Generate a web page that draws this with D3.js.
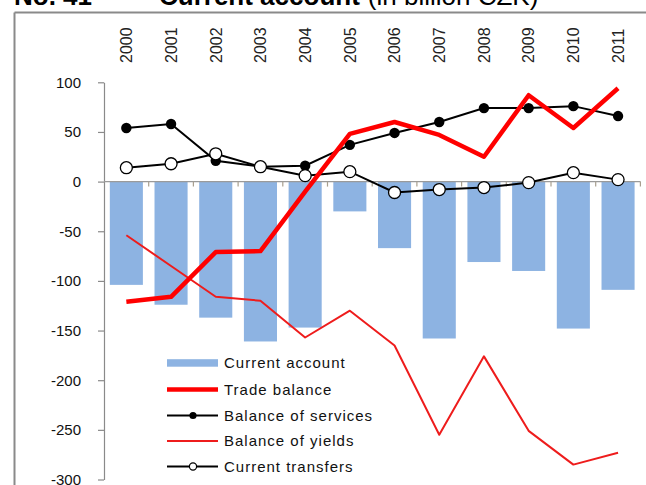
<!DOCTYPE html>
<html>
<head>
<meta charset="utf-8">
<script src="https://cdn.jsdelivr.net/npm/d3@7"></script>
<style>
  html, body { margin: 0; padding: 0; background: #fff; }
  svg { display: block; font-family: Arial, "Liberation Sans", sans-serif; }
</style>
</head>
<body>
<svg id="chart" width="646" height="485"></svg>
<script>
const years = ["2000","2001","2002","2003","2004","2005","2006","2007","2008","2009","2010","2011"];
const currentAccount = [-104, -124, -137, -161, -147, -30, -67, -158, -81, -90, -148, -109];
const tradeBalance = [-121, -116, -71, -70, -10, 48, 60, 47, 25, 87, 54, 94];
const balanceServices = [54, 58, 21, 15, 16, 37, 49, 60, 74, 74, 76, 66];
const balanceYields = [-54, -85, -116, -120, -157, -130, -165, -255, -176, -251, -285, -273];
const currentTransfers = [14, 18, 28, 15, 6, 10, -11, -8, -6, -1, 9, 2];
const yTicks = [-300, -250, -200, -150, -100, -50, 0, 50, 100];
const legendLabels = ["Current account", "Trade balance", "Balance of services", "Balance of yields", "Current transfers"];

const svg = d3.select("#chart");

// Frame
svg.append("line").attr("x1", 14.5).attr("x2", 646).attr("y1", 12.5).attr("y2", 12.5)
  .attr("stroke", "#8a8a8a").attr("stroke-width", 2);
svg.append("line").attr("x1", 14.5).attr("x2", 14.5).attr("y1", 12.5).attr("y2", 485)
  .attr("stroke", "#8a8a8a").attr("stroke-width", 2);

// Title (cut off at top, as in the reference)
const title = svg.append("text").attr("y", 5).attr("font-size", 26).attr("fill", "#000");
title.append("tspan").attr("x", 14).attr("font-weight", "bold").text("No. 41");
title.append("tspan").attr("x", 159).attr("font-weight", "bold").text("Current account");
title.append("tspan").attr("dx", 8).attr("font-weight", "normal").text("(in billion CZK)");

const x = d3.scaleBand().domain(years).range([104, 640.4]).paddingInner(0.26).paddingOuter(0.13);
const y = d3.scaleLinear().domain([-300, 100]).range([479.5, 82.3]);
const cx = d => x(d) + x.bandwidth() / 2;

// Bars
svg.append("g").selectAll("rect").data(years).join("rect")
  .attr("x", d => x(d))
  .attr("width", x.bandwidth())
  .attr("y", (d, i) => y(Math.max(0, currentAccount[i])))
  .attr("height", (d, i) => Math.abs(y(currentAccount[i]) - y(0)))
  .attr("fill", "#8db3e2");

// Y axis
const yAxis = svg.append("g").attr("transform", "translate(104,0)")
  .call(d3.axisLeft(y).tickValues(yTicks).tickFormat(d => String(d))
    .tickSize(6).tickSizeOuter(0).tickPadding(17));
yAxis.select(".domain").attr("stroke", "#8a8a8a").attr("stroke-width", 1.2);
yAxis.selectAll(".tick line").attr("stroke", "#8a8a8a").attr("stroke-width", 1.2);
yAxis.selectAll(".tick text").attr("font-size", 15).attr("fill", "#111")
  .attr("font-family", "Arial, 'Liberation Sans', sans-serif");

// X axis line at zero with ticks pointing down at band boundaries
const boundaries = years.map(d => x(d) - x.step() * x.paddingInner() / 2).slice(1);
boundaries.push(x.range()[1]);
svg.append("line").attr("x1", 104).attr("x2", x.range()[1]).attr("y1", y(0)).attr("y2", y(0))
  .attr("stroke", "#9a9a9a").attr("stroke-width", 1.2);
svg.append("g").selectAll("line").data(boundaries).join("line")
  .attr("x1", d => d).attr("x2", d => d)
  .attr("y1", y(0)).attr("y2", y(0) + 5)
  .attr("stroke", "#a89f8f").attr("stroke-width", 1.2);

// Category labels at top, rotated
svg.append("g").selectAll("text").data(years).join("text")
  .attr("transform", d => `translate(${cx(d)},63) rotate(-90)`)
  .attr("dy", "0.36em")
  .attr("text-anchor", "start")
  .attr("font-size", 16)
  .attr("fill", "#222")
  .text(d => d);

const line = d3.line().x(d => cx(d[0])).y(d => y(d[1]));
const pairs = arr => years.map((d, i) => [d, arr[i]]);

// Balance of yields (thin red)
svg.append("path").datum(pairs(balanceYields)).attr("d", line)
  .attr("fill", "none").attr("stroke", "#ee1c1c").attr("stroke-width", 2).attr("stroke-linejoin", "round");

// Balance of services (black with filled dots)
svg.append("path").datum(pairs(balanceServices)).attr("d", line)
  .attr("fill", "none").attr("stroke", "#000").attr("stroke-width", 2);
svg.append("g").selectAll("circle").data(pairs(balanceServices)).join("circle")
  .attr("cx", d => cx(d[0])).attr("cy", d => y(d[1])).attr("r", 5.2).attr("fill", "#000");

// Current transfers (black with white circles)
svg.append("path").datum(pairs(currentTransfers)).attr("d", line)
  .attr("fill", "none").attr("stroke", "#000").attr("stroke-width", 2);
svg.append("g").selectAll("circle").data(pairs(currentTransfers)).join("circle")
  .attr("cx", d => cx(d[0])).attr("cy", d => y(d[1])).attr("r", 6)
  .attr("fill", "#fff").attr("stroke", "#000").attr("stroke-width", 1.3);

// Trade balance (thick red)
svg.append("path").datum(pairs(tradeBalance)).attr("d", line)
  .attr("fill", "none").attr("stroke", "#ff0000").attr("stroke-width", 4.5).attr("stroke-linejoin", "round");

// Legend
const lg = svg.append("g");
const rowY = [363, 389.5, 415.5, 441, 466.5];
const sx1 = 167, sx2 = 218, smid = 193;
lg.append("rect").attr("x", sx1).attr("y", rowY[0] - 3.8).attr("width", sx2 - sx1).attr("height", 7.5).attr("fill", "#8db3e2");
lg.append("line").attr("x1", sx1).attr("x2", sx2).attr("y1", rowY[1]).attr("y2", rowY[1])
  .attr("stroke", "#ff0000").attr("stroke-width", 4.5);
lg.append("line").attr("x1", sx1).attr("x2", sx2).attr("y1", rowY[2]).attr("y2", rowY[2])
  .attr("stroke", "#000").attr("stroke-width", 2);
lg.append("circle").attr("cx", smid).attr("cy", rowY[2]).attr("r", 3.6).attr("fill", "#000");
lg.append("line").attr("x1", sx1).attr("x2", sx2).attr("y1", rowY[3]).attr("y2", rowY[3])
  .attr("stroke", "#ee1c1c").attr("stroke-width", 2);
lg.append("line").attr("x1", sx1).attr("x2", sx2).attr("y1", rowY[4]).attr("y2", rowY[4])
  .attr("stroke", "#000").attr("stroke-width", 2);
lg.append("circle").attr("cx", smid).attr("cy", rowY[4]).attr("r", 3.6)
  .attr("fill", "#fff").attr("stroke", "#000").attr("stroke-width", 1.2);
lg.selectAll("text").data(legendLabels).join("text")
  .attr("x", 224).attr("y", (d, i) => rowY[i]).attr("dy", "0.36em")
  .attr("font-size", 15).attr("letter-spacing", 1).attr("fill", "#111")
  .text(d => d);
</script>
</body>
</html>
